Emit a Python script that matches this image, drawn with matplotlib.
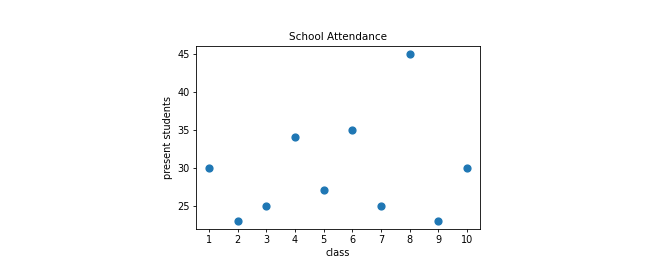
import matplotlib
matplotlib.use("Agg")
import matplotlib.pyplot as plt

# dados
turmas = [1, 2, 3, 4, 5, 6, 7, 8, 9, 10]
presentes = [30, 23, 25, 34, 27, 35, 25, 45, 23, 30]

fig = plt.figure(figsize=(6.52, 2.65), dpi=100)
ax = fig.add_axes([0.3006, 0.1358, 0.4356, 0.6917])

ax.scatter(turmas, presentes, s=24, color="#1f77b4")
ax.set_xticks(turmas)
ax.set_title("School Attendance", fontsize=7.5, pad=4)
ax.set_xlabel("class", fontsize=7, labelpad=2)
ax.set_ylabel("present students", fontsize=7, labelpad=3)
ax.tick_params(labelsize=7, length=2.5, width=0.6, pad=2)
for lado in ax.spines.values():
    lado.set_linewidth(0.6)

fig.savefig("out.png", dpi=100, facecolor="white")
